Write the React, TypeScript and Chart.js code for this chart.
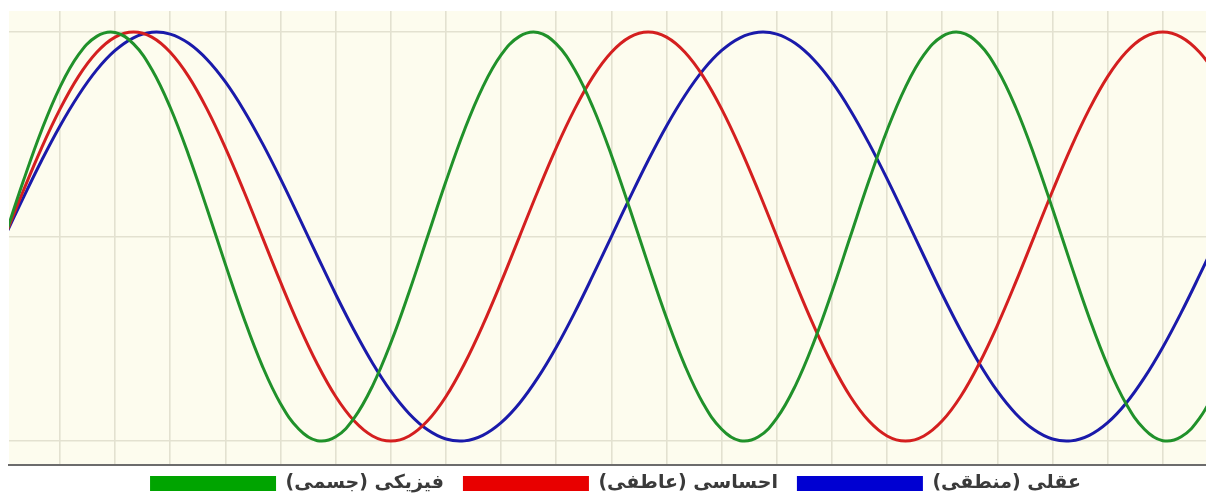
import React, { useEffect, useRef } from "react";
import { Chart, registerables } from "chart.js";

Chart.register(...registerables);

// Day index (days since birth) and the three biorhythm series
const days = [
  0, 1, 2, 3, 4, 5, 6, 7, 8, 9, 10, 11, 12, 13, 14, 15, 16, 17, 18, 19, 20, 21, 22,
  23, 24, 25, 26, 27, 28, 29, 30, 31, 32, 33, 34, 35, 36, 37, 38, 39, 40, 41, 42, 43,
  44, 45, 46, 47, 48, 49, 50, 51, 52, 53, 54, 55, 56, 57, 58, 59, 60, 61, 62, 63, 64,
  65, 66,
];

const physical = [
  0, 0.27, 0.52, 0.731, 0.888, 0.979, 0.998, 0.942, 0.817, 0.631, 0.398, 0.136,
  -0.136, -0.398, -0.631, -0.817, -0.942, -0.998, -0.979, -0.888, -0.731, -0.52, -0.27,
  0, 0.27, 0.52, 0.731, 0.888, 0.979, 0.998, 0.942, 0.817, 0.631, 0.398, 0.136,
  -0.136, -0.398, -0.631, -0.817, -0.942, -0.998, -0.979, -0.888, -0.731, -0.52, -0.27,
  0, 0.27, 0.52, 0.731, 0.888, 0.979, 0.998, 0.942, 0.817, 0.631, 0.398, 0.136,
  -0.136, -0.398, -0.631, -0.817, -0.942, -0.998, -0.979, -0.888, -0.731,
];

const emotional = [
  0, 0.223, 0.434, 0.623, 0.782, 0.901, 0.975, 1, 0.975, 0.901, 0.782, 0.623, 0.434, 0.223,
  0, -0.223, -0.434, -0.623, -0.782, -0.901, -0.975, -1, -0.975, -0.901, -0.782, -0.623, -0.434, -0.223,
  0, 0.223, 0.434, 0.623, 0.782, 0.901, 0.975, 1, 0.975, 0.901, 0.782, 0.623, 0.434, 0.223,
  0, -0.223, -0.434, -0.623, -0.782, -0.901, -0.975, -1, -0.975, -0.901, -0.782, -0.623, -0.434, -0.223,
  0, 0.223, 0.434, 0.623, 0.782, 0.901, 0.975, 1, 0.975, 0.901, 0.782,
];

const intellectual = [
  0, 0.189, 0.372, 0.541, 0.69, 0.815, 0.91, 0.972, 0.999, 0.99, 0.945, 0.866, 0.756,
  0.618, 0.458, 0.282, 0.095, -0.095, -0.282, -0.458, -0.618, -0.756, -0.866, -0.945,
  -0.99, -0.999, -0.972, -0.91, -0.815, -0.69, -0.541, -0.372, -0.189,
  0, 0.189, 0.372, 0.541, 0.69, 0.815, 0.91, 0.972, 0.999, 0.99, 0.945, 0.866, 0.756,
  0.618, 0.458, 0.282, 0.095, -0.095, -0.282, -0.458, -0.618, -0.756, -0.866, -0.945,
  -0.99, -0.999, -0.972, -0.91, -0.815, -0.69, -0.541, -0.372, -0.189,
  0,
];

const seriesLabels = ["فیزیکی (جسمی)", "احساسی (عاطفی)", "عقلی (منطقی)"];

// Grid positions (days) and y grid values
const gridDays = [3, 6, 9, 12, 15, 18, 21, 24, 27, 30, 33, 36, 39, 42, 45, 48, 51, 54, 57, 60, 63];
const yGridValues = [-1, 0, 1];

const lineColors = ["#20912a", "#d41f1f", "#1a1aaa"];
const legendColors = ["#00a400", "#e80000", "#0000d2"];

const plotBackground = {
  id: "plotBackground",
  beforeDraw(chart: any) {
    const { ctx, chartArea } = chart;
    if (!chartArea) return;
    ctx.save();
    ctx.fillStyle = "#fdfcee";
    ctx.fillRect(chartArea.left, chartArea.top, chartArea.right - chartArea.left, chartArea.bottom - chartArea.top);
    ctx.restore();
  },
};

const legendShift = {
  id: "legendShift",
  afterLayout(chart: any) {
    const l = chart.legend;
    if (l) {
      l.top -= 10;
      l.bottom -= 10;
      l.left += 8;
      l.right += 8;
    }
  },
};

export default function App() {
  const ref = useRef<HTMLCanvasElement>(null);

  useEffect(() => {
    if (!ref.current) return;
    const series = [physical, emotional, intellectual];
    const chart = new Chart(ref.current, {
      type: "line",
      data: {
        datasets: series.map((arr, i) => ({
          label: seriesLabels[i],
          data: days.map((d, j) => ({ x: d, y: arr[j] })),
          borderColor: lineColors[i],
          backgroundColor: legendColors[i],
          borderWidth: 3,
          pointRadius: 0,
          fill: false,
          tension: 0.4,
        })),
      },
      options: {
        responsive: false,
        animation: false,
        events: [],
        layout: { padding: { left: 9, top: 11, right: 0, bottom: 0 } },
        scales: {
          x: {
            type: "linear",
            min: 0.226,
            max: 65.35,
            afterBuildTicks: (axis: any) => {
              axis.ticks = gridDays.map((v) => ({ value: v }));
            },
            ticks: { display: false },
            grid: { display: true, drawTicks: false, color: "#e3e1d0", lineWidth: 1.6 },
            border: { display: true, color: "#6c6c6c", width: 2 },
          },
          y: {
            type: "linear",
            min: -1.117,
            max: 1.103,
            afterBuildTicks: (axis: any) => {
              axis.ticks = yGridValues.map((v) => ({ value: v }));
            },
            ticks: { display: false },
            grid: { display: true, drawTicks: false, color: "#e3e1d0", lineWidth: 1.6 },
            border: { display: false },
          },
        },
        plugins: {
          tooltip: { enabled: false },
          legend: {
            display: true,
            position: "bottom",
            align: "center",
            labels: {
              boxWidth: 126,
              boxHeight: 15,
              padding: 19,
              color: "#3a3a3a",
              font: { family: "'DejaVu Sans', sans-serif", size: 19, weight: "bold" },
              generateLabels: (c: any) =>
                c.data.datasets.map((ds: any, i: number) => ({
                  text: ds.label,
                  fillStyle: legendColors[i],
                  strokeStyle: legendColors[i],
                  lineWidth: 0,
                  hidden: false,
                  datasetIndex: i,
                  fontColor: "#3a3a3a",
                })),
            },
          },
        },
      },
      plugins: [plotBackground, legendShift],
    });
    return () => chart.destroy();
  }, []);

  return (
    <div
      style={{
        position: "fixed",
        left: 0,
        top: 0,
        width: 1206,
        height: 496,
        overflow: "hidden",
        background: "#fff",
      }}
    >
      <canvas ref={ref} width={1206} height={513} style={{ display: "block" }} />
    </div>
  );
}
